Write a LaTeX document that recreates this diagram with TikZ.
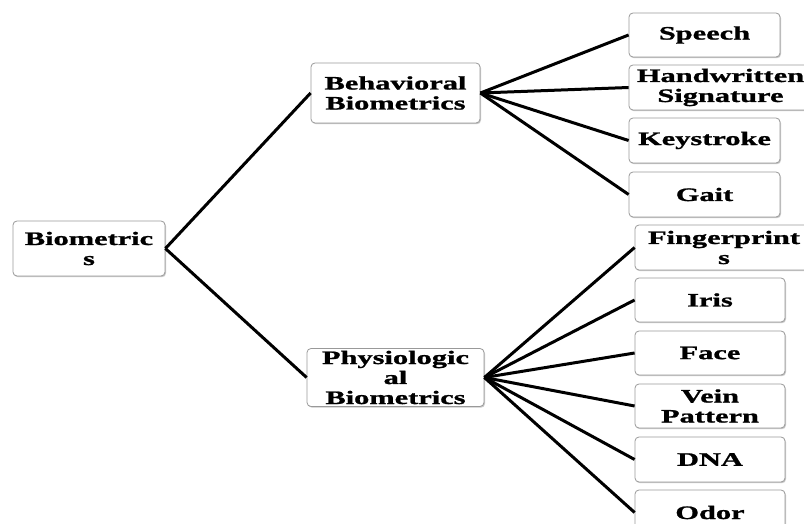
\documentclass[tikz,border=0pt]{standalone}
\usepackage{fontspec}
\newfontfamily\boxfont{Liberation Serif}[FakeStretch=1.6,FakeBold=1.2]
\usetikzlibrary{shadows}
\begin{document}
\begin{tikzpicture}[x=1pt,y=-1pt,
  bx/.style={draw=black!40, line width=0.8pt, rounded corners=4pt, fill=white,
    drop shadow={shadow xshift=1pt, shadow yshift=-1.2pt, fill=black!35, opacity=0.6},
    align=center, inner sep=0pt, text=black,
    font=\boxfont\bfseries\fontsize{19}{20}\selectfont},
  conn/.style={line width=3pt, black}]
\useasboundingbox (0,0) rectangle (804,524);
\clip (0,0) rectangle (804,524);
\fill[white] (0,0) rectangle (804,524);
% nodes
\node[bx, minimum width=152pt, minimum height=55pt] (bio) at (89,248.5) {Biometric\\s};
\node[bx, minimum width=169pt, minimum height=60pt] (beh) at (395.5,93) {Behavioral\\Biometrics};
\node[bx, minimum width=177pt, minimum height=58pt] (phy) at (395.5,377.5) {Physiologic\\al\\Biometrics};
\node[bx, minimum width=151pt, minimum height=44pt] (sp) at (704.5,35) {Speech};
\node[bx, minimum width=183pt, minimum height=45pt] (hw) at (720.5,87.5) {Handwritten\\Signature};
\node[bx, minimum width=151pt, minimum height=45pt] (ks) at (704.5,140.5) {Keystroke};
\node[bx, minimum width=151pt, minimum height=45pt] (ga) at (704.5,194.5) {Gait};
\node[bx, minimum width=178pt, minimum height=45pt] (fp) at (724,247.5) {Fingerprint\\s};
\node[bx, minimum width=150pt, minimum height=44pt] (ir) at (710,300) {Iris};
\node[bx, minimum width=150pt, minimum height=44pt] (fa) at (710,353) {Face};
\node[bx, minimum width=150pt, minimum height=44pt] (ve) at (710,406) {Vein\\Pattern};
\node[bx, minimum width=150pt, minimum height=45pt] (dn) at (710,459.5) {DNA};
\node[bx, minimum width=150pt, minimum height=45pt] (od) at (710,512.5) {Odor};
% connectors
\draw[conn] (bio.east) -- (beh.west);
\draw[conn] (bio.east) -- (phy.west);
\foreach \t in {sp,hw,ks,ga} \draw[conn] (beh.east) -- (\t.west);
\foreach \t in {fp,ir,fa,ve,dn,od} \draw[conn] (phy.east) -- (\t.west);
\end{tikzpicture}
\end{document}
